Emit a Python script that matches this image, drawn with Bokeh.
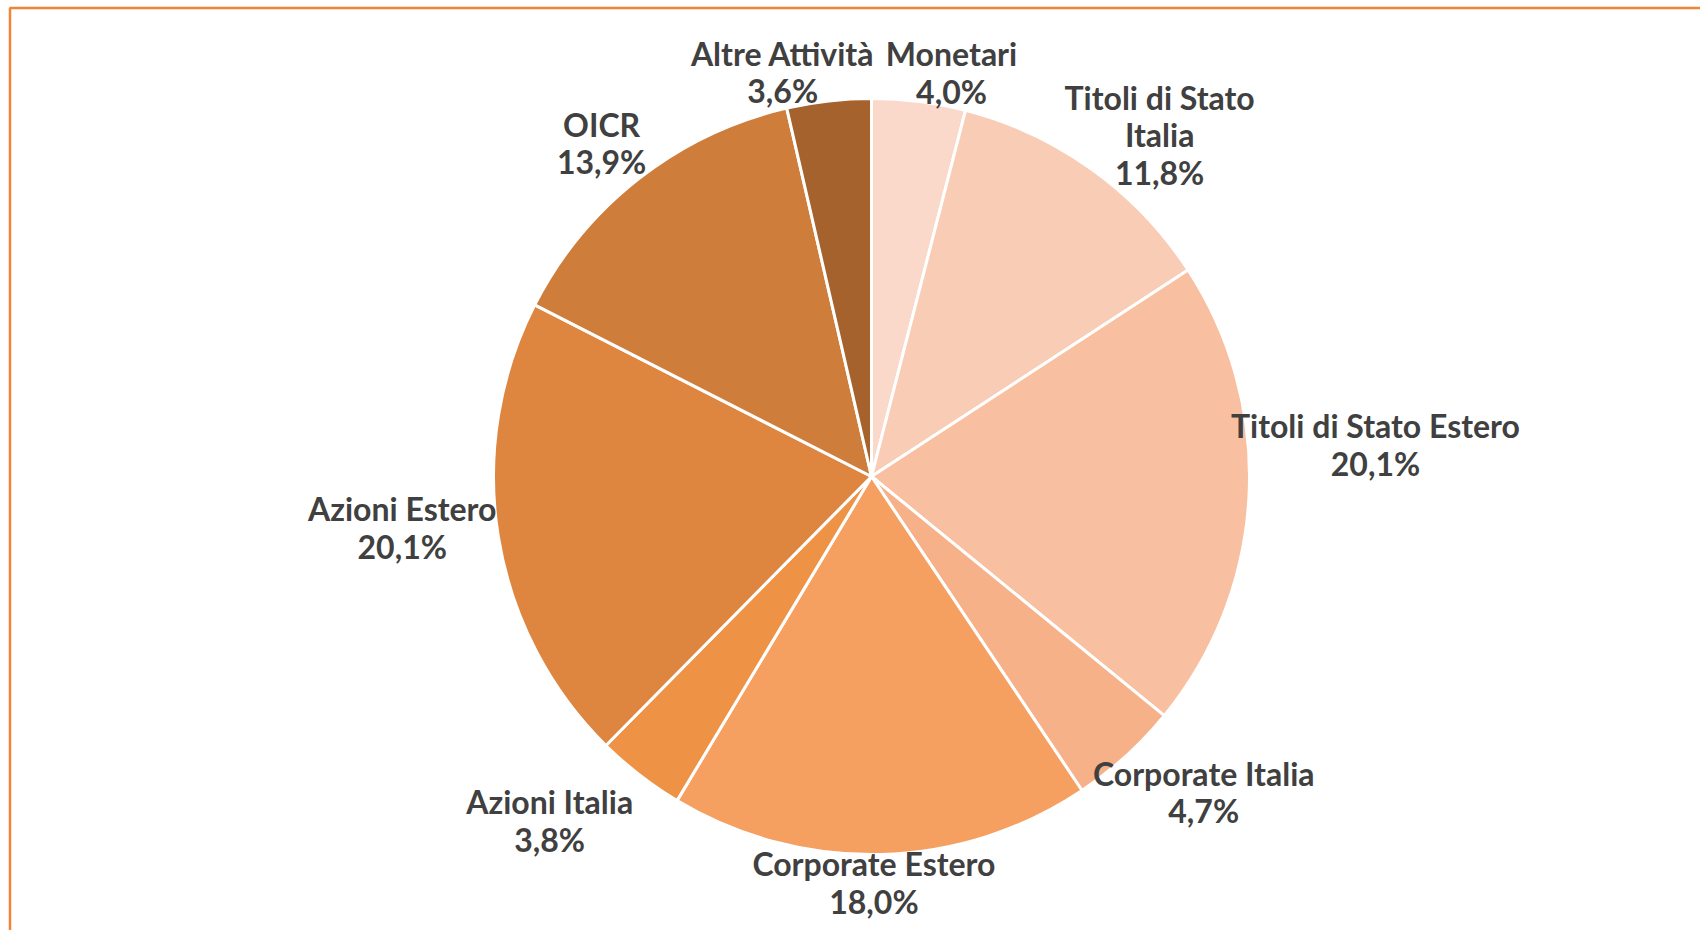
import numpy as np
from bokeh.plotting import figure
from bokeh.models import Range1d, ColumnDataSource
from bokeh.core.properties import value
from bokeh.embed import file_html
from bokeh.resources import INLINE

# ---- data ----
categories = ["Monetari", "Titoli di Stato\nItalia", "Titoli di Stato Estero",
              "Corporate Italia", "Corporate Estero", "Azioni Italia",
              "Azioni Estero", "OICR", "Altre Attività"]
shares = [4.0, 11.8, 20.1, 4.7, 18.0, 3.8, 20.1, 13.9, 3.6]
colors = ["#FAD8CA", "#F9CCB5", "#F8BFA1", "#F7B189", "#F59F61",
          "#EE9245", "#DE853F", "#CF7D3A", "#A5622C"]

# ---- layout ----
W, H = 1700, 930
cx, cy, R = 871, 454, 378
# per-label (distance from centre, angle nudge in degrees clockwise)
label_dist = [412, 447, 505, 458, 406, 471, 472, 429, 414]
label_nudge = [4.0, 4.5, -6.7, -4.2, 1.1, 5.3, 3.0, -1.0, -5.9]

vals = np.array(shares)
cum = np.concatenate([[0], np.cumsum(vals)]) / vals.sum()
start = np.pi / 2 - cum[:-1] * 2 * np.pi
end = np.pi / 2 - cum[1:] * 2 * np.pi
mid_cw = (cum[:-1] + cum[1:]) / 2 * 360 + np.array(label_nudge)  # degrees clockwise from top
ang = np.radians(90 - mid_cw)
lx = cx + np.array(label_dist) * np.cos(ang)
ly = cy + np.array(label_dist) * np.sin(ang)
labels = [f"{c}\n{s:.1f}%".replace(".", ",") for c, s in zip(categories, shares)]

src = ColumnDataSource(dict(start=start, end=end, color=colors))
lsrc = ColumnDataSource(dict(x=lx, y=ly, text=labels))

p = figure(width=W, height=H, x_range=Range1d(0, W), y_range=Range1d(0, H),
           output_backend="svg", toolbar_location=None, min_border=0)
p.axis.visible = False
p.grid.visible = False
p.outline_line_color = None
p.background_fill_color = "#FFFFFF"
p.border_fill_color = "#FFFFFF"

# chart frame (left and top edges visible)
fx, fy = 9.5, H - 7.5
p.line(x=[fx, fx, W + 10], y=[-10, fy, fy], line_color="#F08537", line_width=2.5)

p.wedge(x=cx, y=cy, radius=R, start_angle="start", end_angle="end",
        direction="clock", fill_color="color", line_color="white",
        line_width=3, source=src)

p.text(x="x", y="y", text="text", source=lsrc, text_align="center",
       text_baseline="middle", text_font=value("Lato"), text_font_style="bold",
       text_font_size="32px", text_color="#404040", text_line_height=0.96)

open("out.html", "w").write(file_html(p, INLINE))
